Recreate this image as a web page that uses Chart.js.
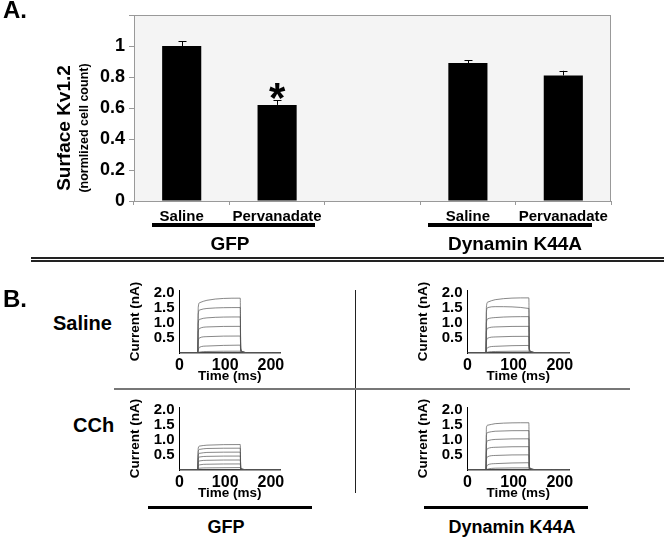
<!DOCTYPE html>
<html>
<head>
<meta charset="utf-8">
<script src="https://cdn.jsdelivr.net/npm/chart.js@4.4.1/dist/chart.umd.min.js"></script>
<style>
  body { margin: 0; background: #fff; }
  #fig { position: relative; width: 664px; height: 541px; overflow: hidden;
         font-family: 'Liberation Sans', Arial, sans-serif; font-weight: bold; color: #000; }
  #fig canvas, .lbl, .rule { position: absolute; }
  .lbl { white-space: nowrap; line-height: 1; }
  .mid { transform: translateX(-50%); }
  .rule { background: #000; }
</style>
</head>
<body>
<div id="fig">
  <canvas id="barChart" width="664" height="255" style="left:0;top:0"></canvas>

  <div class="lbl" style="left:3px;top:-2px;font-size:24px">A.</div>
  <div class="rule" style="left:152px;top:223px;width:163px;height:3.5px"></div>
  <div class="rule" style="left:428px;top:223px;width:164px;height:3.5px"></div>
  <div class="lbl mid" style="left:230px;top:234px;font-size:19px">GFP</div>
  <div class="lbl mid" style="left:515px;top:234px;font-size:19px">Dynamin K44A</div>

  <div class="rule" style="left:31px;top:257px;width:633px;height:1.6px;background:#222"></div>
  <div class="rule" style="left:31px;top:260px;width:633px;height:1.6px;background:#222"></div>

  <div class="lbl" style="left:3px;top:287px;font-size:24px">B.</div>
  <div class="lbl" style="left:53px;top:313px;font-size:20px">Saline</div>
  <div class="lbl" style="left:73px;top:415px;font-size:20px">CCh</div>

  <div class="rule" style="left:355px;top:290px;width:1px;height:203px;background:#222"></div>
  <div class="rule" style="left:114px;top:388px;width:516px;height:2px;background:#777"></div>

  <canvas id="gfpSalineChart" width="170" height="110" style="left:120px;top:276px"></canvas>
  <canvas id="dynSalineChart" width="171" height="110" style="left:408px;top:276px"></canvas>
  <canvas id="gfpCChChart" width="170" height="110" style="left:120px;top:393px"></canvas>
  <canvas id="dynCChChart" width="171" height="110" style="left:408px;top:393px"></canvas>

  <div class="rule" style="left:148px;top:506px;width:164px;height:3px"></div>
  <div class="rule" style="left:424px;top:506px;width:164px;height:3px"></div>
  <div class="lbl mid" style="left:226px;top:518px;font-size:18px">GFP</div>
  <div class="lbl mid" style="left:512px;top:518px;font-size:18px">Dynamin K44A</div>
</div>

<script>
'use strict'

// panel A
const categories = ['Saline', 'Pervanadate', '', 'Saline', 'Pervanadate'];
const surfaceKv = [1.0, 0.62, null, 0.89, 0.81];
const surfaceErr = [0.03, 0.03, null, 0.018, 0.03];
const significant = [false, true, false, false, false];
const yTicksA = [0, 0.2, 0.4, 0.6, 0.8, 1];

// panel B: current traces (nA) sampled at these times (ms)
const traceTimes = [0, 40, 41, 44, 60, 133, 134, 138, 146, 220];

const gfpSaline = [
  [0, 0, 1.50, 1.66, 1.74, 1.81, 0.16, 0.05, 0.01, 0],
  [0, 0, 1.28, 1.42, 1.47, 1.50, 0.14, 0.04, 0.01, 0],
  [0, 0, 0.98, 1.11, 1.16, 1.19, 0.12, 0.04, 0.01, 0],
  [0, 0, 0.68, 0.81, 0.86, 0.88, 0.10, 0.03, 0, 0],
  [0, 0, 0.38, 0.50, 0.54, 0.56, 0.08, 0.03, 0, 0],
  [0, 0, 0.10, 0.19, 0.23, 0.26, 0.05, 0.02, 0, 0],
  [0, 0, 0.01, 0.03, 0.05, 0.06, 0.02, 0.01, 0, 0]
];

const dynSaline = [
  [0, 0, 1.52, 1.68, 1.76, 1.82, 0.16, 0.05, 0.01, 0],
  [0, 0, 1.36, 1.50, 1.53, 1.47, 0.14, 0.04, 0.01, 0],
  [0, 0, 1.00, 1.13, 1.17, 1.20, 0.12, 0.04, 0.01, 0],
  [0, 0, 0.70, 0.82, 0.86, 0.88, 0.10, 0.03, 0, 0],
  [0, 0, 0.38, 0.49, 0.53, 0.55, 0.08, 0.03, 0, 0],
  [0, 0, 0.10, 0.18, 0.22, 0.25, 0.05, 0.02, 0, 0],
  [0, 0, 0.01, 0.03, 0.05, 0.06, 0.02, 0.01, 0, 0]
];

const gfpCCh = [
  [0, 0, 0.72, 0.79, 0.82, 0.84, 0.08, 0.03, 0, 0],
  [0, 0, 0.61, 0.68, 0.71, 0.72, 0.07, 0.03, 0, 0],
  [0, 0, 0.49, 0.55, 0.58, 0.59, 0.06, 0.02, 0, 0],
  [0, 0, 0.37, 0.43, 0.45, 0.46, 0.05, 0.02, 0, 0],
  [0, 0, 0.25, 0.30, 0.32, 0.33, 0.04, 0.01, 0, 0],
  [0, 0, 0.13, 0.17, 0.19, 0.20, 0.03, 0.01, 0, 0],
  [0, 0, 0.03, 0.06, 0.07, 0.08, 0.02, 0.01, 0, 0]
];

const dynCCh = [
  [0, 0, 1.40, 1.48, 1.53, 1.56, 0.14, 0.04, 0.01, 0],
  [0, 0, 1.14, 1.24, 1.28, 1.30, 0.12, 0.04, 0.01, 0],
  [0, 0, 0.86, 0.97, 1.01, 1.03, 0.10, 0.03, 0, 0],
  [0, 0, 0.60, 0.71, 0.75, 0.77, 0.08, 0.03, 0, 0],
  [0, 0, 0.34, 0.44, 0.48, 0.50, 0.07, 0.02, 0, 0],
  [0, 0, 0.09, 0.17, 0.21, 0.24, 0.04, 0.02, 0, 0],
  [0, 0, 0.01, 0.03, 0.06, 0.07, 0.02, 0.01, 0, 0]
];

Chart.defaults.font.family = "'Liberation Sans', Arial, sans-serif";
Chart.defaults.font.weight = 'bold';
Chart.defaults.color = '#000';
Chart.defaults.animation = false;
Chart.defaults.plugins.legend.display = false;
Chart.defaults.plugins.tooltip.enabled = false;


// grey plot box, error bars, asterisk and the two-line y title for panel A
const panelA = {
  id: 'panelA',
  beforeDatasetsDraw(chart) {
    const {ctx, chartArea: a} = chart;
    ctx.save();
    ctx.fillStyle = '#f4f4f4';
    ctx.fillRect(a.left, a.top, a.right - a.left, a.bottom - a.top);
    ctx.strokeStyle = '#999';
    ctx.lineWidth = 1;
    ctx.strokeRect(a.left + 0.5, a.top + 0.5, a.right - a.left - 1, a.bottom - a.top);
    ctx.restore();
  },
  afterDatasetsDraw(chart) {
    const {ctx} = chart;
    const y = chart.scales.y;
    const bars = chart.getDatasetMeta(0).data;
    ctx.save();
    ctx.strokeStyle = '#000';
    ctx.fillStyle = '#000';
    ctx.lineWidth = 1;
    bars.forEach((bar, i) => {
      if (surfaceKv[i] == null) return;
      const top = y.getPixelForValue(surfaceKv[i] + surfaceErr[i]);
      const x = Math.round(bar.x) + 0.5;
      ctx.beginPath();
      ctx.moveTo(x, bar.y);
      ctx.lineTo(x, top);
      ctx.moveTo(x - 4, Math.round(top) + 0.5);
      ctx.lineTo(x + 4, Math.round(top) + 0.5);
      ctx.stroke();
      if (significant[i]) {
        ctx.font = "bold 42px 'Liberation Sans', Arial, sans-serif";
        ctx.textAlign = 'center';
        ctx.textBaseline = 'alphabetic';
        ctx.fillText('*', bar.x, top + 12);
      }
    });
    ctx.translate(65, 128);
    ctx.rotate(-Math.PI / 2);
    ctx.textAlign = 'center';
    ctx.textBaseline = 'middle';
    ctx.font = "bold 19px 'Liberation Sans', Arial, sans-serif";
    ctx.fillText('Surface Kv1.2', 0, 0);
    ctx.font = "bold 12.5px 'Liberation Sans', Arial, sans-serif";
    ctx.fillText('(normlized cell count)', 0, 20);
    ctx.restore();
  }
};

new Chart(document.getElementById('barChart'), {
  type: 'bar',
  data: {
    labels: categories,
    datasets: [{
      data: surfaceKv,
      backgroundColor: '#000',
      borderWidth: 0,
      categoryPercentage: 1,
      barPercentage: 0.41
    }]
  },
  options: {
    responsive: false,
    layout: { padding: { top: 15, right: 53, left: 0, bottom: 0 } },
    scales: {
      x: {
        afterFit: (s) => { s.height = 54; },
        grid: { offset: true, drawOnChartArea: false, tickLength: 4, color: '#999' },
        border: { display: false },
        ticks: { font: { size: 15 }, padding: 3, maxRotation: 0, autoSkip: false }
      },
      y: {
        min: 0,
        max: 1.2,
        afterFit: (s) => { s.width = 134; },
        grid: { drawOnChartArea: false, tickLength: 5, color: '#999' },
        border: { display: false },
        ticks: {
          stepSize: 0.2,
          font: { size: 18 },
          padding: 4,
          callback: (v) => {
            const r = parseFloat(v.toFixed(1));
            return yTicksA.includes(r) ? String(r) : '';
          }
        }
      }
    }
  },
  plugins: [panelA]
});


function traceChart(id, traces) {
  return new Chart(document.getElementById(id), {
    type: 'line',
    data: {
      datasets: traces.map((vals) => ({
        data: traceTimes.map((t, i) => ({ x: t, y: vals[i] })),
        borderColor: '#555',
        borderWidth: 0.7,
        pointRadius: 0,
        cubicInterpolationMode: 'monotone',
        fill: false
      }))
    },
    options: {
      responsive: false,
      layout: { padding: { top: 10, right: 10, left: 0, bottom: 0 } },
      scales: {
        x: {
          type: 'linear',
          min: 0,
          max: 220,
          afterFit: (s) => { s.height = 33; },
          grid: { drawOnChartArea: false, drawTicks: false },
          border: { color: '#444', width: 1.5 },
          ticks: { stepSize: 100, includeBounds: false, autoSkip: false, font: { size: 16 }, padding: 3 },
          title: { display: true, text: 'Time (ms)', font: { size: 13.5 }, padding: { top: 0, bottom: 2 } }
        },
        y: {
          min: 0,
          max: 2.08,
          afterFit: (s) => { s.width = 59.5; },
          grid: { drawOnChartArea: false, drawTicks: false },
          border: { color: '#000', width: 1 },
          ticks: {
            stepSize: 0.5,
            includeBounds: false,
            autoSkip: false,
            font: { size: 15 },
            padding: 5,
            callback: (v) => (v > 0 ? v.toFixed(1) : '')
          },
          title: { display: true, text: 'Current (nA)', font: { size: 13.5 }, padding: { top: 7, bottom: 0 } }
        }
      }
    }
  });
}

traceChart('gfpSalineChart', gfpSaline);
traceChart('dynSalineChart', dynSaline);
traceChart('gfpCChChart', gfpCCh);
traceChart('dynCChChart', dynCCh);
</script>
</body>
</html>
